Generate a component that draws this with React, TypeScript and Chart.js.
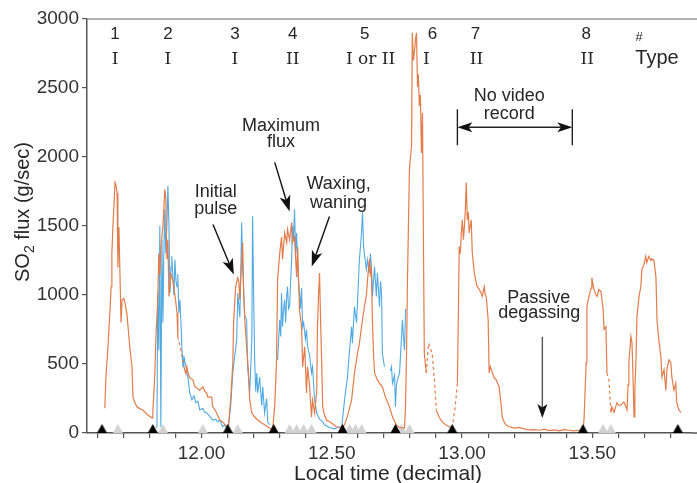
import React, { useEffect, useRef } from 'react';
import { Chart, registerables } from 'chart.js';

Chart.register(...registerables);

// ---------- DATA ----------
// Orange (solid) SO2 flux record: time (decimal hours) and flux (g/sec); null = gap
const orangeTime = [
  11.629, 11.633, 11.641, 11.649, 11.653, 11.656, 11.660, 11.664, 11.668, 11.672, 11.676, 11.679, 11.683, 11.687, 11.691, 11.695,
  11.702, 11.706, 11.714, 11.718, 11.725, 11.733, 11.737, 11.744, 11.752, 11.764, 11.775, 11.783, 11.794, 11.802, 11.810, 11.813,
  11.821, 11.825, 11.832, 11.836, 11.840, 11.844, 11.852, 11.859, 11.863, 11.867, 11.871, 11.875, 11.883, 11.890, 11.898, 11.906, 11.909, 11.909,
  11.932, 11.940, 11.944, 11.948, 11.955, 11.967, 11.974, 11.982, 11.993, 12.005, 12.013, 12.020, 12.024, 12.039, 12.043, 12.051, 12.058, 12.070, 12.081, 12.097,
  12.104, 12.112, 12.120, 12.123, 12.131, 12.139, 12.143, 12.147, 12.150, 12.158, 12.162, 12.166, 12.173, 12.177, 12.181, 12.185, 12.193, 12.204, 12.216, 12.231, 12.242, 12.254, 12.273,
  12.281, 12.288, 12.292, 12.300, 12.307, 12.311, 12.319, 12.327, 12.330, 12.338, 12.346, 12.349, 12.357, 12.365, 12.369, 12.376, 12.384, 12.388, 12.396, 12.403, 12.407, 12.415, 12.422, 12.426, 12.434,
  12.442, 12.445, 12.449, 12.453, 12.457, 12.461, 12.465, 12.472, 12.480, 12.499, 12.518, 12.537,
  12.549, 12.560, 12.568, 12.576, 12.587, 12.599, 12.606, 12.614, 12.625, 12.633, 12.637, 12.645, 12.648, 12.652, 12.656, 12.660, 12.664, 12.675, 12.683, 12.694, 12.706, 12.721, 12.733, 12.748, 12.760, 12.779,
  12.783, 12.787, 12.790, 12.794, 12.798, 12.802, 12.806, 12.809, 12.813, 12.817, 12.821, 12.825, 12.829, 12.832, 12.836, 12.840, 12.844, 12.848, 12.852, 12.855, 12.859, 12.863, 12.863,
  12.901, 12.913, 12.924, 12.936, 12.951, 12.962, 12.962,
  12.982, 12.986, 12.989, 12.993, 12.997, 13.001, 13.005, 13.009, 13.012, 13.016, 13.020, 13.024, 13.027, 13.031, 13.035, 13.039, 13.047, 13.054, 13.058, 13.066, 13.073, 13.077,
  13.085, 13.089, 13.093, 13.096, 13.100, 13.104, 13.108, 13.115, 13.123, 13.131, 13.142, 13.150, 13.154, 13.161, 13.169, 13.181, 13.200, 13.219, 13.238, 13.257, 13.276, 13.296,
  13.315, 13.334, 13.353, 13.372, 13.391, 13.410, 13.429, 13.449, 13.464,
  13.468, 13.472, 13.476, 13.479, 13.487, 13.495, 13.498, 13.502, 13.506, 13.514, 13.518, 13.525, 13.533, 13.537, 13.541, 13.545, 13.552, 13.556, 13.556,
  13.571, 13.575, 13.583, 13.594, 13.602, 13.610, 13.621, 13.629, 13.633, 13.637, 13.640, 13.648, 13.652, 13.656, 13.660, 13.663, 13.667, 13.671, 13.679, 13.686, 13.690,
  13.698, 13.705, 13.709, 13.717, 13.725, 13.728, 13.736, 13.744, 13.748, 13.755, 13.763, 13.767, 13.775, 13.782, 13.786, 13.794, 13.801, 13.805, 13.813, 13.820, 13.824, 13.832, 13.840,
];
const orangeFlux = [
  180, 400, 625, 900, 1060, 1300, 1500, 1650, 1815, 1790, 1740, 1200, 1490, 1150, 800, 965,
  975, 945, 860, 770, 620, 480, 260, 220, 190, 175, 167, 150, 130, 120, 110, 145,
  435, 700, 965, 1300, 1150, 1350, 1500, 1765, 1700, 1260, 1400, 990, 1150, 1110, 1000, 870, 700, null,
  480, 430, 480, 435, 400, 385, 340, 325, 310, 335, 300, 290, 260, 260, 190, 170, 145, 94, 80, 45,
  60, 250, 500, 800, 1060, 1125, 1100, 965, 1100, 1380, 1000, 820, 625, 530, 400, 240, 145, 116, 94, 73, 60, 45, 22,
  200, 530, 1110, 1300, 1420, 1260, 1450, 1380, 1475, 1400, 1525, 1380, 1420, 1130, 1350, 890, 770, 480, 625, 290, 480, 335, 116, 240, 145,
  300, 770, 1000, 1160, 800, 530, 190, 130, 94, 73, 45, 40,
  60, 120, 180, 240, 435, 580, 650, 770, 915, 1000, 1110, 1260, 1150, 1185, 800, 580, 435, 385, 360, 335, 260, 190, 116, 58, 40, 35,
  200, 600, 1060, 1500, 1910, 2000, 2080, 2900, 2700, 2760, 2850, 2900, 2510, 2600, 2370, 2450, 2030, 2320, 1310, 580, 500, 435, null,
  165, 110, 80, 60, 45, 35, null,
  360, 900, 1350, 1300, 1450, 1545, 1400, 1500, 1600, 1815, 1545, 1600, 1450, 1500, 1545, 1310, 1160, 1090, 1060, 1040, 1015, 990,
  1060, 1000, 985, 915, 820, 435, 480, 445, 400, 385, 335, 200, 116, 80, 58, 45, 36, 40, 30, 22, 25, 20,
  28, 18, 22, 15, 25, 20, 15, 20, 25,
  100, 300, 510, 915, 990, 1050, 1125, 1080, 1040, 1000, 990, 1040, 1025, 965, 900, 750, 770, 435, null,
  150, 190, 150, 218, 200, 205, 225, 190, 167, 350, 510, 700, 655, 400, 116, 300, 510, 840, 990, 1060, 1185,
  1220, 1280, 1235, 1280, 1250, 1262, 1255, 1130, 820, 675, 550, 405, 460, 310, 460, 530, 510, 405, 310, 360, 218, 167, 150,
];

// Orange dashed (interpolated) pieces
const orangeDashTime = [11.909, 11.921, 11.932, 11.932, 12.863, 12.871, 12.878, 12.886, 12.894, 12.901, 12.901, 12.962, 12.974, 12.982, 12.982, 13.556, 13.564, 13.571];
const orangeDashFlux = [700, 600, 480, null, 435, 650, 620, 560, 380, 165, null, 35, 200, 360, null, 435, 380, 150];

// Blue SO2 flux record
const blueTime = [
  11.825, 11.829, 11.832, 11.836, 11.840, 11.844, 11.848, 11.852, 11.855, 11.859, 11.863, 11.867, 11.871, 11.875, 11.879, 11.883, 11.886, 11.890, 11.894, 11.898,
  11.902, 11.906, 11.909, 11.913, 11.917, 11.921, 11.925, 11.929, 11.932, 11.940, 11.948, 11.955, 11.963, 11.971, 11.978, 11.986, 11.993, 12.005, 12.013, 12.020,
  12.032, 12.043, 12.055, 12.062, 12.070, 12.081, 12.089, 12.097, 12.104, 12.112, 12.120, 12.127, 12.135, 12.139, 12.147, 12.150, 12.154, 12.158, 12.166, 12.173,
  12.177, 12.185, 12.193, 12.196, 12.200, 12.204, 12.208, 12.212, 12.216, 12.223, 12.231, 12.235, 12.242, 12.250, 12.254, 12.262, 12.262,
  12.292, 12.300, 12.304, 12.307, 12.311, 12.315, 12.319, 12.323, 12.327, 12.330, 12.334, 12.338, 12.342, 12.346, 12.349, 12.353, 12.357, 12.361, 12.365, 12.369,
  12.372, 12.376, 12.380, 12.384, 12.388, 12.392, 12.396, 12.399, 12.403, 12.407, 12.415, 12.422, 12.426, 12.434, 12.442, 12.453, 12.465, 12.472, 12.491, 12.510,
  12.530, 12.537, 12.549, 12.560, 12.568, 12.576, 12.579, 12.587, 12.595, 12.599, 12.606, 12.614, 12.618, 12.622, 12.625, 12.633, 12.637, 12.645, 12.648, 12.652,
  12.656, 12.664, 12.671, 12.675, 12.683, 12.687, 12.691, 12.694, 12.702, 12.702,
  12.725, 12.729, 12.733, 12.741, 12.744, 12.748, 12.752, 12.760, 12.767, 12.771, 12.775, 12.779, 12.783,
];
const blueFlux = [
  40, 45, 1015, 600, 1500, 45, 1400, 800, 1255, 1620, 1300, 1500, 1790, 1500, 1015, 1200, 1280, 1130, 1000, 1255,
  1100, 1060, 1150, 870, 965, 800, 600, 480, 560, 480, 400, 290, 240, 270, 220, 230, 167, 180, 150, 145,
  120, 94, 100, 80, 94, 45, 60, 30, 70, 200, 435, 550, 675, 1015, 840, 1100, 1525, 1200, 850, 820,
  480, 290, 675, 1570, 1000, 530, 300, 435, 290, 405, 200, 335, 145, 250, 80, 60, null,
  530, 820, 700, 1015, 770, 900, 965, 800, 1000, 1060, 900, 915, 1100, 1255, 1500, 1400, 1620, 1300, 1450, 1205,
  1100, 1015, 900, 1050, 770, 800, 725, 680, 750, 625, 560, 435, 480, 240, 145, 100, 80, 60, 40, 30,
  45, 30, 240, 405, 600, 770, 650, 915, 800, 965, 1255, 1450, 1600, 1350, 1300, 1185, 1255, 1160, 1300, 1205,
  990, 1205, 990, 1160, 915, 1100, 1000, 580, 480, null,
  450, 480, 360, 420, 190, 350, 385, 435, 675, 820, 700, 600, 900,
];

// Eruption onsets (black) and small events (grey) marked on the time axis
const eventTime = [11.618, 11.813, 12.101, 12.277, 12.541, 12.744, 12.962, 13.464, 13.828];
const minorEventTime = [11.679, 11.852, 12.005, 12.139, 12.338, 12.365, 12.392, 12.422, 12.568, 12.591, 12.614, 12.767, 12.798, 13.541, 13.571];

// Axes
const yTicks = [0, 500, 1000, 1500, 2000, 2500, 3000];
const xTicks = [11.6, 11.7, 11.8, 11.9, 12.0, 12.1, 12.2, 12.3, 12.4, 12.5, 12.6, 12.7, 12.8, 12.9, 13.0, 13.1, 13.2, 13.3, 13.4, 13.5, 13.6, 13.7, 13.8];
const xLabelValues = [12.0, 12.5, 13.0, 13.5];
const X_MIN = 11.5605;
const X_MAX = 13.8785;

// Event header labels
const eventNumbers = ['1', '2', '3', '4', '5', '6', '7', '8'];
const eventNumberTime = [11.668, 11.871, 12.128, 12.350, 12.626, 12.886, 13.051, 13.476];
const eventTypes = ['I', 'I', 'I', 'II', 'I or II', 'I', 'II', 'II'];
const eventTypeTime = [11.668, 11.871, 12.128, 12.350, 12.649, 12.863, 13.055, 13.480];

// ---------- STYLE ----------
const ORANGE = '#E27C4A';
const BLUE = '#4FAAE2';
const SANS = '"Liberation Sans", Arial, Helvetica, sans-serif';
const SERIF = '"DejaVu Serif", "Liberation Serif", serif';
const TEXT = '#262626';

function pts(t: number[], v: (number | null)[]) {
  return t.map((x, i) => ({ x, y: v[i] }));
}

function triangleImage(color: string) {
  const c = document.createElement('canvas');
  c.width = 11;
  c.height = 20;
  const g = c.getContext('2d')!;
  g.fillStyle = color;
  g.beginPath();
  g.moveTo(0.5, 10);
  g.lineTo(10.5, 10);
  g.lineTo(5.5, 1);
  g.closePath();
  g.fill();
  return c;
}

function arrowHead(ctx: CanvasRenderingContext2D, x1: number, y1: number, x2: number, y2: number, len = 16, half = 5.5) {
  const a = Math.atan2(y2 - y1, x2 - x1);
  const cos = Math.cos(a), sin = Math.sin(a);
  const bx = x2 - len * cos, by = y2 - len * sin;
  const nx = x2 - len * 0.75 * cos, ny = y2 - len * 0.75 * sin;
  ctx.beginPath();
  ctx.moveTo(x2, y2);
  ctx.lineTo(bx - half * sin, by + half * cos);
  ctx.lineTo(nx, ny);
  ctx.lineTo(bx + half * sin, by - half * cos);
  ctx.closePath();
  ctx.fill();
}

function arrow(ctx: CanvasRenderingContext2D, x1: number, y1: number, x2: number, y2: number, lineColor: string, len = 16, half = 5.5) {
  const a = Math.atan2(y2 - y1, x2 - x1);
  ctx.strokeStyle = lineColor;
  ctx.lineWidth = 1.4;
  ctx.beginPath();
  ctx.moveTo(x1, y1);
  ctx.lineTo(x2 - len * 0.7 * Math.cos(a), y2 - len * 0.7 * Math.sin(a));
  ctx.stroke();
  ctx.fillStyle = '#111';
  arrowHead(ctx, x1, y1, x2, y2, len, half);
}

const annotationPlugin = {
  id: 'annotations',
  afterDraw(chart: any) {
    const { ctx, chartArea } = chart;
    const xs = chart.scales.x;
    const ys = chart.scales.y;
    const px = (t: number) => xs.getPixelForValue(t);
    const py = (v: number) => ys.getPixelForValue(v);
    ctx.save();

    // top frame line (runs to the image edge) and bottom axis continuation
    ctx.strokeStyle = '#9a9a9a';
    ctx.lineWidth = 1.5;
    ctx.beginPath();
    ctx.moveTo(chartArea.left, chartArea.top);
    ctx.lineTo(chart.width, chartArea.top);
    ctx.stroke();
    ctx.strokeStyle = '#555';
    ctx.beginPath();
    ctx.moveTo(chartArea.right, chartArea.bottom);
    ctx.lineTo(chart.width, chartArea.bottom);
    ctx.stroke();

    ctx.fillStyle = TEXT;
    ctx.textAlign = 'center';
    ctx.textBaseline = 'alphabetic';

    // header: event numbers and types
    ctx.font = `17px ${SANS}`;
    eventNumbers.forEach((s, i) => ctx.fillText(s, px(eventNumberTime[i]), py(2855)));
    ctx.font = `13px ${SANS}`;
    ctx.fillText('#', px(13.679), py(2840));
    ctx.font = `17px ${SERIF}`;
    eventTypes.forEach((s, i) => ctx.fillText(s, px(eventTypeTime[i]), py(2673)));
    ctx.font = `20px ${SANS}`;
    ctx.fillText('Type', px(13.748), py(2673));

    // annotations
    ctx.font = `18px ${SANS}`;
    ctx.fillText('Maximum', px(12.305), py(2186));
    ctx.fillText('flux', px(12.305), py(2070));
    ctx.fillText('Initial', px(12.055), py(1707));
    ctx.fillText('pulse', px(12.055), py(1584));
    ctx.fillText('Waxing,', px(12.526), py(1765));
    ctx.fillText('waning', px(12.526), py(1634));
    ctx.fillText('No video', px(13.181), py(2404));
    ctx.fillText('record', px(13.181), py(2274));
    ctx.fillText('Passive', px(13.294), py(944));
    ctx.fillText('degassing', px(13.296), py(835));

    arrow(ctx, px(12.281), py(1961), px(12.338), py(1605), '#111');
    arrow(ctx, px(12.044), py(1511), px(12.124), py(1148), '#111');
    arrow(ctx, px(12.491), py(1569), px(12.423), py(1206), '#111');
    arrow(ctx, px(13.308), py(697), px(13.308), py(109), '#555', 14, 5);

    // no video record span
    const xa = px(12.982), xb = px(13.423), yv = py(2216);
    ctx.strokeStyle = '#222';
    ctx.lineWidth = 1.4;
    ctx.beginPath();
    ctx.moveTo(xa, py(2346));
    ctx.lineTo(xa, py(2085));
    ctx.moveTo(xb, py(2346));
    ctx.lineTo(xb, py(2085));
    ctx.moveTo(xa + 10, yv);
    ctx.lineTo(xb - 10, yv);
    ctx.stroke();
    ctx.fillStyle = '#111';
    arrowHead(ctx, xb, yv, xa, yv, 15, 5);
    arrowHead(ctx, xa, yv, xb, yv, 15, 5);

    // axis titles
    ctx.fillStyle = TEXT;
    ctx.textAlign = 'left';
    ctx.textBaseline = 'alphabetic';
    const bigFont = `20px ${SANS}`;
    const subFont = `14px ${SANS}`;
    ctx.font = bigFont;
    const wSO = ctx.measureText('SO').width;
    const wRest = ctx.measureText(' flux (g/sec)').width;
    ctx.font = subFont;
    const w2 = ctx.measureText('2').width;
    const total = wSO + w2 + wRest;
    ctx.translate(29, 212);
    ctx.rotate(-Math.PI / 2);
    let cx = -total / 2;
    ctx.font = bigFont;
    ctx.fillText('SO', cx, 0);
    cx += wSO;
    ctx.font = subFont;
    ctx.fillText('2', cx, 5);
    cx += w2;
    ctx.font = bigFont;
    ctx.fillText(' flux (g/sec)', cx, 0);
    ctx.restore();

    ctx.save();
    ctx.fillStyle = TEXT;
    ctx.font = `21px ${SANS}`;
    ctx.textAlign = 'center';
    ctx.textBaseline = 'alphabetic';
    ctx.fillText('Local time (decimal)', 388, 480);
    ctx.restore();
  },
};

export default function App() {
  const ref = useRef<HTMLCanvasElement>(null);
  useEffect(() => {
    if (!ref.current) return;
    const black = triangleImage('#000000');
    const grey = triangleImage('#d2d2d2');
    const chart = new Chart(ref.current, {
      type: 'line',
      data: {
        datasets: [
          {
            label: 'events',
            data: eventTime.map((t) => ({ x: t, y: 0 })),
            showLine: false,
            pointStyle: black as any,
            pointRadius: 5,
            clip: false as any,
            order: 0,
          },
          {
            label: 'orange',
            data: pts(orangeTime, orangeFlux),
            borderColor: ORANGE,
            borderWidth: 1.2,
            pointRadius: 0,
            spanGaps: false,
            tension: 0,
            order: 1,
          },
          {
            label: 'orange-dash',
            data: pts(orangeDashTime, orangeDashFlux),
            borderColor: ORANGE,
            borderWidth: 1.2,
            borderDash: [3, 3],
            pointRadius: 0,
            spanGaps: false,
            tension: 0,
            order: 1,
          },
          {
            label: 'blue',
            data: pts(blueTime, blueFlux),
            borderColor: BLUE,
            borderWidth: 1.1,
            pointRadius: 0,
            spanGaps: false,
            tension: 0,
            order: 2,
          },
          {
            label: 'minor',
            data: minorEventTime.map((t) => ({ x: t, y: 0 })),
            showLine: false,
            pointStyle: grey as any,
            pointRadius: 5,
            clip: false as any,
            order: 3,
          },
        ],
      },
      options: {
        responsive: false,
        maintainAspectRatio: false,
        animation: false,
        devicePixelRatio: 1,
        layout: { padding: { top: 19, left: 0, right: 0, bottom: 0 } },
        plugins: { legend: { display: false }, tooltip: { enabled: false } },
        scales: {
          x: {
            type: 'linear',
            min: X_MIN,
            max: X_MAX,
            afterBuildTicks: (s: any) => {
              s.ticks = xTicks.map((v) => ({ value: v }));
            },
            afterFit: (s: any) => {
              s.height = 50;
            },
            ticks: {
              autoSkip: false,
              maxRotation: 0,
              padding: 4,
              color: '#333',
              font: { family: SANS, size: 19 },
              callback: (v: any) => {
                const n = Number(v);
                return xLabelValues.some((l) => Math.abs(l - n) < 1e-6) ? n.toFixed(2) : '';
              },
            },
            grid: { drawOnChartArea: false, drawTicks: true, tickLength: 5, color: '#555', lineWidth: 1.2 },
            border: { display: true, color: '#555', width: 1.5 },
          },
          y: {
            type: 'linear',
            min: 0,
            max: 3000,
            afterBuildTicks: (s: any) => {
              s.ticks = yTicks.map((v) => ({ value: v }));
            },
            afterFit: (s: any) => {
              s.width = 87;
            },
            ticks: {
              padding: 3,
              color: '#333',
              font: { family: SANS, size: 19 },
              callback: (v: any) => String(v),
            },
            grid: { drawOnChartArea: false, drawTicks: true, tickLength: 5, color: '#555', lineWidth: 1.2 },
            border: { display: true, color: '#555', width: 1.5 },
          },
        },
      },
      plugins: [annotationPlugin],
    } as any);
    return () => chart.destroy();
  }, []);
  return (
    <div style={{ position: 'absolute', left: 0, top: 0, width: 697, height: 483, background: '#fff' }}>
      <canvas ref={ref} width={697} height={483} style={{ display: 'block' }} />
    </div>
  );
}
